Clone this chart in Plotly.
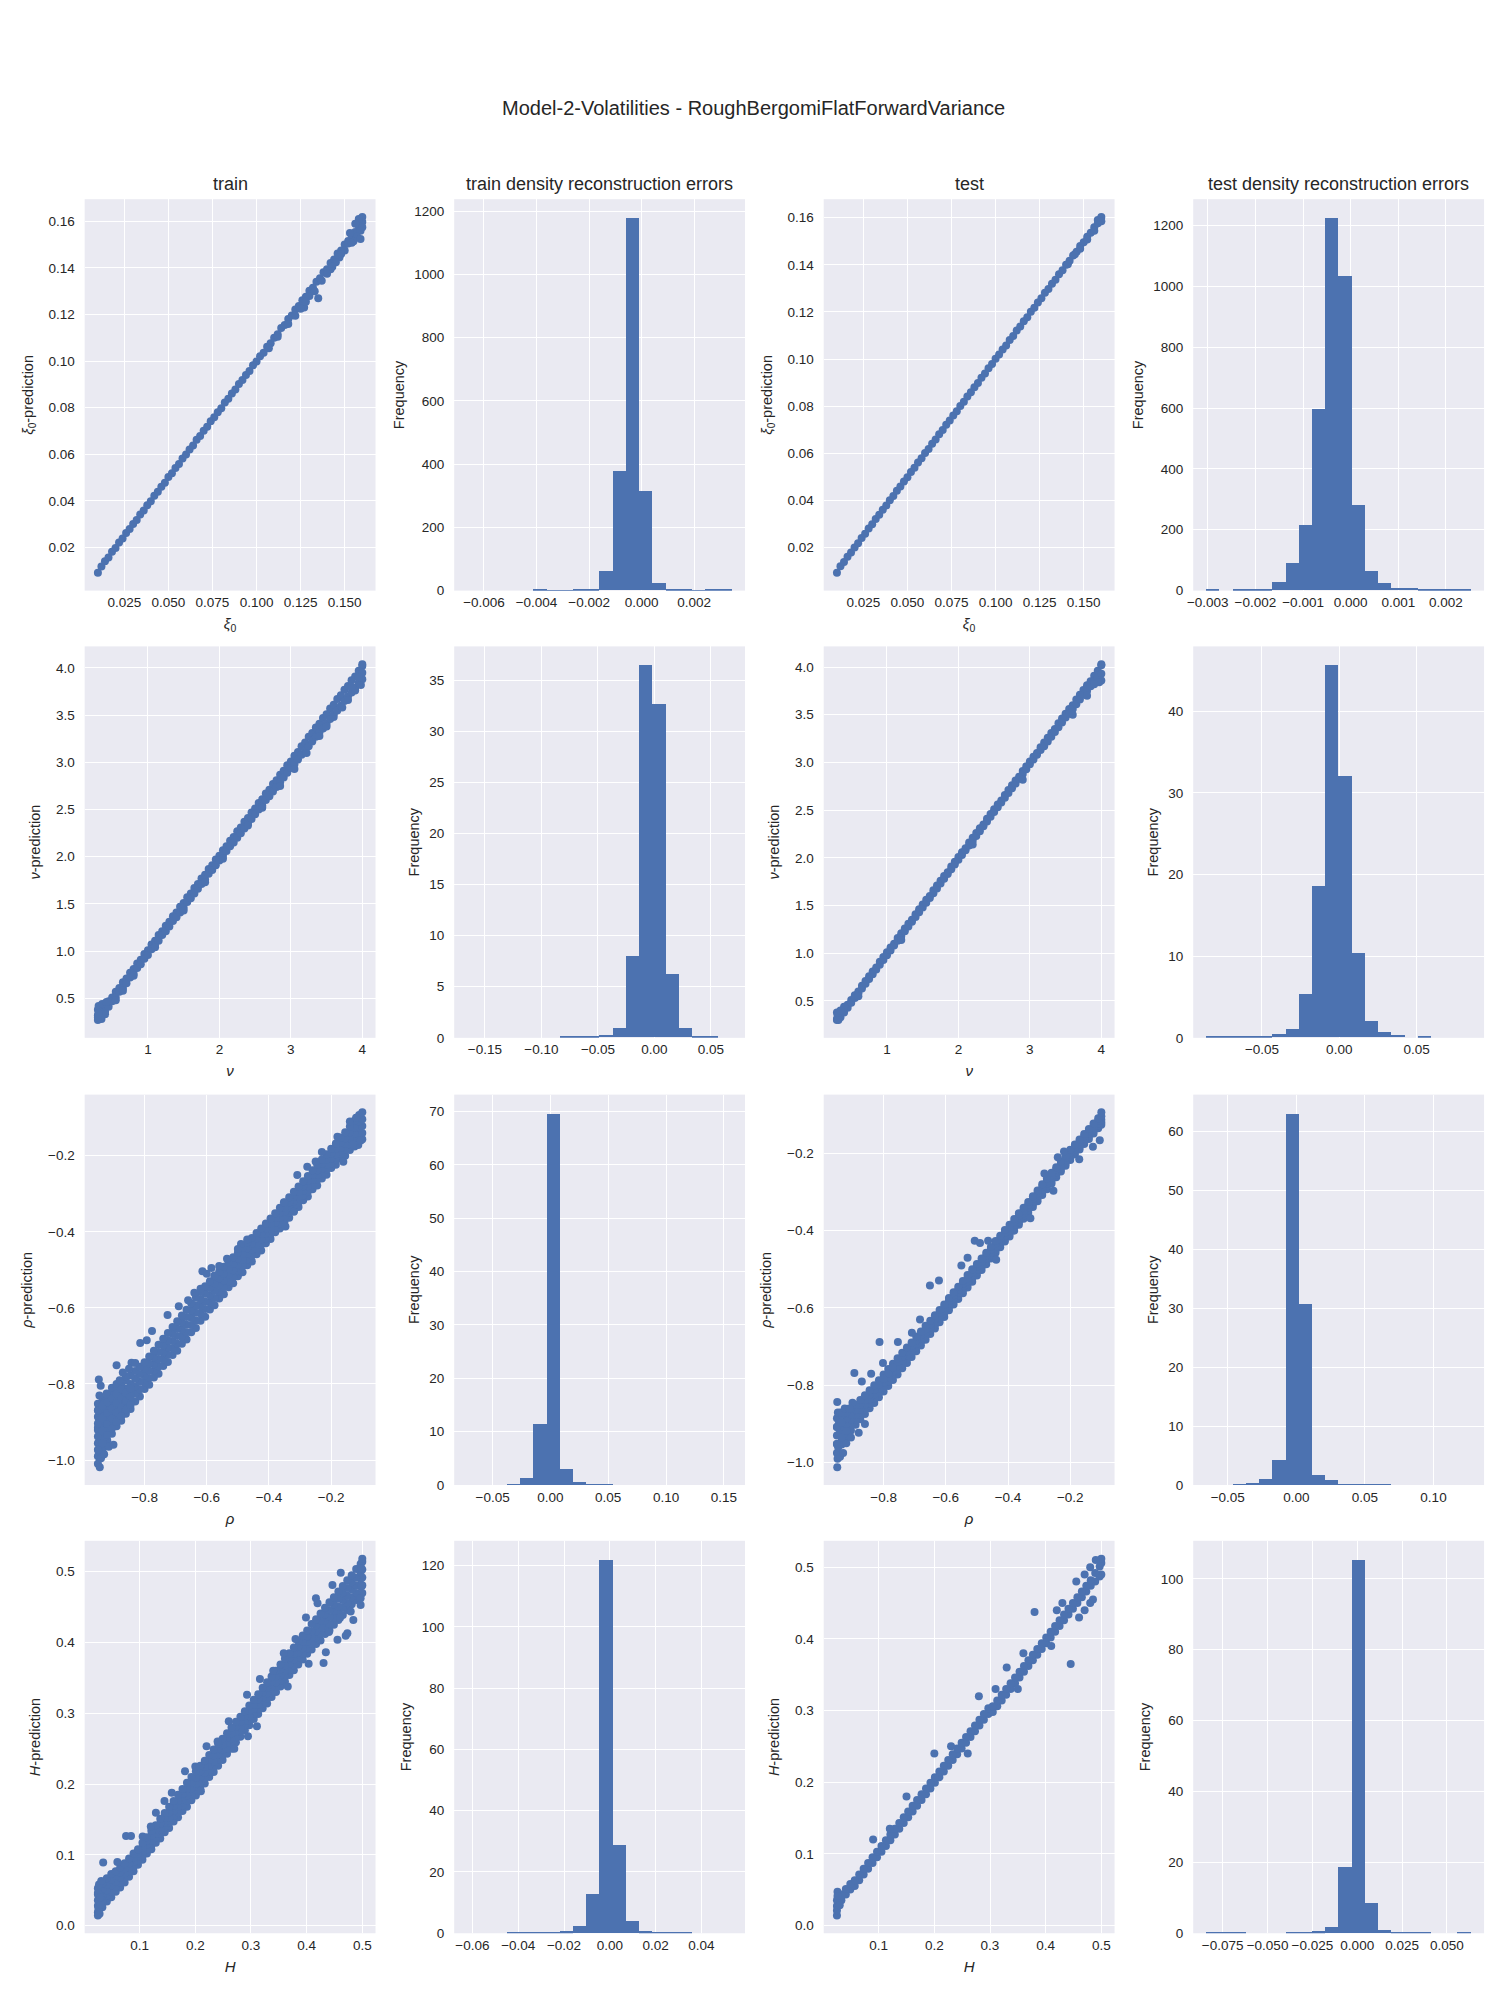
import plotly.graph_objects as go

# ---------------- DATA ----------------
# xi0 : true values and predictions
xi0_true = [0.010, 0.012, 0.014, 0.016, 0.018, 0.020, 0.022, 0.024, 0.026, 0.028,
            0.030, 0.032, 0.034, 0.036, 0.038, 0.040, 0.042, 0.044, 0.046, 0.048,
            0.050, 0.052, 0.054, 0.056, 0.058, 0.060, 0.062, 0.064, 0.066, 0.068,
            0.070, 0.072, 0.074, 0.076, 0.078, 0.080, 0.082, 0.084, 0.086, 0.088,
            0.090, 0.092, 0.094, 0.096, 0.098, 0.100, 0.102, 0.104, 0.106, 0.108,
            0.110, 0.112, 0.114, 0.116, 0.118, 0.120, 0.122, 0.124, 0.126, 0.128,
            0.130, 0.132, 0.134, 0.136, 0.138, 0.140, 0.142, 0.144, 0.146, 0.148,
            0.150, 0.152, 0.154, 0.156, 0.158, 0.160]
xi0_train_pred = [0.0091, 0.0118, 0.0141, 0.0157, 0.0182, 0.0198, 0.0221, 0.0238, 0.0262, 0.0279,
                  0.0301, 0.0318, 0.0342, 0.0359, 0.0381, 0.0398, 0.0422, 0.0439, 0.0461, 0.0478,
                  0.0502, 0.0519, 0.0541, 0.0558, 0.0582, 0.0599, 0.0621, 0.0638, 0.0662, 0.0679,
                  0.0701, 0.0718, 0.0742, 0.0759, 0.0781, 0.0798, 0.0822, 0.0839, 0.0861, 0.0878,
                  0.0902, 0.0919, 0.0941, 0.0958, 0.0982, 0.0999, 0.1021, 0.1036, 0.1062, 0.1077,
                  0.1101, 0.1116, 0.1142, 0.1155, 0.1181, 0.1196, 0.1222, 0.1237, 0.1261, 0.1276,
                  0.1302, 0.1315, 0.1341, 0.1356, 0.1382, 0.1395, 0.1421, 0.1436, 0.1462, 0.1475,
                  0.1501, 0.1516, 0.1542, 0.1555, 0.1581, 0.1598]
xi0_train_extra_true = [0.160, 0.160, 0.159, 0.157, 0.155, 0.152, 0.150, 0.147, 0.145, 0.142,
                        0.140, 0.137, 0.135, 0.127, 0.130, 0.125, 0.122, 0.118, 0.112, 0.107,
                        0.158, 0.156, 0.153, 0.159, 0.154, 0.148, 0.143, 0.133, 0.128]
xi0_train_extra_pred = [0.1619, 0.1575, 0.1560, 0.1535, 0.1515, 0.1505, 0.1475, 0.1445, 0.1425, 0.1395,
                        0.1375, 0.1345, 0.1270, 0.1230, 0.1280, 0.1225, 0.1195, 0.1160, 0.1105, 0.1055,
                        0.1610, 0.1590, 0.1550, 0.1525, 0.1508, 0.1460, 0.1405, 0.1300, 0.1255]
xi0_test_pred = [0.0093, 0.0121, 0.0139, 0.0161, 0.0179, 0.0201, 0.0219, 0.0241, 0.0259, 0.0281,
                 0.0299, 0.0321, 0.0339, 0.0361, 0.0379, 0.0401, 0.0419, 0.0441, 0.0459, 0.0481,
                 0.0499, 0.0521, 0.0539, 0.0561, 0.0579, 0.0601, 0.0619, 0.0641, 0.0659, 0.0681,
                 0.0699, 0.0721, 0.0739, 0.0761, 0.0779, 0.0801, 0.0819, 0.0841, 0.0859, 0.0881,
                 0.0899, 0.0921, 0.0939, 0.0961, 0.0979, 0.1001, 0.1019, 0.1041, 0.1058, 0.1081,
                 0.1098, 0.1121, 0.1138, 0.1161, 0.1178, 0.1201, 0.1218, 0.1240, 0.1258, 0.1281,
                 0.1297, 0.1320, 0.1337, 0.1360, 0.1377, 0.1400, 0.1417, 0.1440, 0.1456, 0.1480,
                 0.1496, 0.1519, 0.1536, 0.1559, 0.1576, 0.1603]
xi0_test_extra_true = [0.158, 0.156, 0.152, 0.148, 0.160, 0.145, 0.141]
xi0_test_extra_pred = [0.1590, 0.1545, 0.1508, 0.1468, 0.1585, 0.1445, 0.1402]

# nu
nu_true = [0.30, 0.35, 0.40, 0.45, 0.50, 0.55, 0.60, 0.65, 0.70, 0.75,
           0.80, 0.85, 0.90, 0.95, 1.00, 1.05, 1.10, 1.15, 1.20, 1.25,
           1.30, 1.35, 1.40, 1.45, 1.50, 1.55, 1.60, 1.65, 1.70, 1.75,
           1.80, 1.85, 1.90, 1.95, 2.00, 2.05, 2.10, 2.15, 2.20, 2.25,
           2.30, 2.35, 2.40, 2.45, 2.50, 2.55, 2.60, 2.65, 2.70, 2.75,
           2.80, 2.85, 2.90, 2.95, 3.00, 3.05, 3.10, 3.15, 3.20, 3.25,
           3.30, 3.35, 3.40, 3.45, 3.50, 3.55, 3.60, 3.65, 3.70, 3.75,
           3.80, 3.85, 3.90, 3.95, 4.00]
nu_train_pred_a = [0.32, 0.37, 0.41, 0.47, 0.51, 0.57, 0.61, 0.67, 0.71, 0.77,
                   0.81, 0.87, 0.91, 0.97, 1.01, 1.07, 1.11, 1.17, 1.21, 1.27,
                   1.31, 1.37, 1.41, 1.47, 1.51, 1.57, 1.61, 1.67, 1.71, 1.77,
                   1.81, 1.87, 1.91, 1.97, 2.01, 2.07, 2.11, 2.17, 2.21, 2.27,
                   2.31, 2.37, 2.41, 2.47, 2.51, 2.57, 2.61, 2.67, 2.71, 2.77,
                   2.81, 2.87, 2.91, 2.97, 3.01, 3.07, 3.11, 3.17, 3.21, 3.27,
                   3.31, 3.37, 3.41, 3.47, 3.51, 3.57, 3.61, 3.67, 3.71, 3.77,
                   3.81, 3.87, 3.91, 3.97, 4.02]
nu_train_pred_b = [0.27, 0.31, 0.36, 0.41, 0.47, 0.51, 0.57, 0.61, 0.66, 0.72,
                   0.76, 0.82, 0.86, 0.92, 0.96, 1.02, 1.06, 1.11, 1.17, 1.21,
                   1.26, 1.32, 1.36, 1.41, 1.46, 1.52, 1.56, 1.61, 1.66, 1.71,
                   1.76, 1.82, 1.86, 1.91, 1.96, 2.01, 2.06, 2.11, 2.15, 2.20,
                   2.25, 2.30, 2.35, 2.40, 2.45, 2.50, 2.54, 2.60, 2.64, 2.69,
                   2.74, 2.79, 2.84, 2.89, 2.94, 2.98, 3.03, 3.08, 3.13, 3.17,
                   3.22, 3.27, 3.32, 3.36, 3.41, 3.46, 3.51, 3.55, 3.60, 3.65,
                   3.70, 3.74, 3.79, 3.84, 3.88]
nu_train_extra_true = [4.00, 4.00, 3.98, 3.95, 3.90, 3.85, 3.80, 3.72, 3.60, 3.50,
                       3.40, 3.22, 3.05, 2.85, 2.60, 2.40, 2.05, 1.80, 1.50, 1.10,
                       0.80, 0.30, 0.31, 0.32, 0.33, 0.35, 0.36, 0.40, 0.42, 0.55,
                       0.65, 0.30, 0.31]
nu_train_extra_pred = [4.04, 3.95, 3.82, 3.90, 3.76, 3.80, 3.66, 3.58, 3.48, 3.38,
                       3.28, 3.10, 2.93, 2.75, 2.52, 2.33, 1.98, 1.73, 1.43, 1.04,
                       0.74, 0.38, 0.42, 0.29, 0.35, 0.28, 0.44, 0.33, 0.46, 0.48,
                       0.58, 0.30, 0.34]
nu_test_pred_a = [0.31, 0.36, 0.41, 0.46, 0.51, 0.56, 0.60, 0.66, 0.71, 0.76,
                  0.81, 0.85, 0.91, 0.96, 1.01, 1.06, 1.10, 1.16, 1.21, 1.26,
                  1.31, 1.35, 1.41, 1.46, 1.51, 1.56, 1.60, 1.66, 1.71, 1.76,
                  1.81, 1.85, 1.91, 1.96, 2.01, 2.06, 2.10, 2.16, 2.21, 2.26,
                  2.31, 2.35, 2.41, 2.46, 2.51, 2.56, 2.60, 2.66, 2.71, 2.76,
                  2.81, 2.85, 2.91, 2.96, 3.01, 3.06, 3.10, 3.16, 3.21, 3.26,
                  3.31, 3.35, 3.41, 3.46, 3.51, 3.56, 3.60, 3.66, 3.71, 3.76,
                  3.81, 3.85, 3.91, 3.96, 4.02]
nu_test_pred_b = [0.30, 0.33, 0.38, 0.43, 0.48, 0.53, 0.58, 0.63, 0.68, 0.73,
                  0.78, 0.83, 0.88, 0.93, 0.98, 1.03, 1.08, 1.13, 1.18, 1.23,
                  1.28, 1.33, 1.38, 1.43, 1.48, 1.53, 1.58, 1.63, 1.68, 1.73,
                  1.78, 1.83, 1.88, 1.93, 1.98, 2.03, 2.08, 2.13, 2.18, 2.23,
                  2.28, 2.33, 2.38, 2.43, 2.48, 2.53, 2.58, 2.63, 2.68, 2.73,
                  2.78, 2.83, 2.88, 2.93, 2.98, 3.03, 3.08, 3.13, 3.17, 3.22,
                  3.27, 3.32, 3.37, 3.42, 3.47, 3.51, 3.56, 3.61, 3.66, 3.71,
                  3.75, 3.80, 3.85, 3.89, 3.93]
nu_test_extra_true = [0.30, 0.31, 0.32, 4.00, 4.00, 3.97, 3.90, 3.80, 3.60, 2.90,
                      2.20, 1.20, 0.60, 0.40, 0.35]
nu_test_extra_pred = [0.38, 0.35, 0.30, 4.03, 3.86, 3.84, 3.82, 3.70, 3.50, 2.82,
                      2.14, 1.14, 0.55, 0.44, 0.40]

# rho
rho_true = [-0.950, -0.935, -0.920, -0.905, -0.890, -0.875, -0.860, -0.845, -0.830, -0.815,
            -0.800, -0.785, -0.770, -0.755, -0.740, -0.725, -0.710, -0.695, -0.680, -0.665,
            -0.650, -0.635, -0.620, -0.605, -0.590, -0.575, -0.560, -0.545, -0.530, -0.515,
            -0.500, -0.485, -0.470, -0.455, -0.440, -0.425, -0.410, -0.395, -0.380, -0.365,
            -0.350, -0.335, -0.320, -0.305, -0.290, -0.275, -0.260, -0.245, -0.230, -0.215,
            -0.200, -0.185, -0.170, -0.155, -0.140, -0.125, -0.110, -0.100]
rho_train_pred_1 = [-0.990, -0.972, -0.948, -0.931, -0.911, -0.897, -0.878, -0.866, -0.846, -0.833,
                    -0.813, -0.802, -0.783, -0.773, -0.753, -0.742, -0.724, -0.713, -0.694, -0.683,
                    -0.664, -0.653, -0.634, -0.623, -0.604, -0.593, -0.575, -0.564, -0.546, -0.535,
                    -0.517, -0.506, -0.488, -0.478, -0.459, -0.449, -0.430, -0.419, -0.401, -0.391,
                    -0.373, -0.363, -0.345, -0.335, -0.317, -0.307, -0.288, -0.278, -0.260, -0.250,
                    -0.232, -0.224, -0.208, -0.200, -0.185, -0.176, -0.161, -0.157]
rho_train_pred_2 = [-0.956, -0.939, -0.919, -0.904, -0.887, -0.873, -0.856, -0.844, -0.826, -0.814,
                    -0.796, -0.784, -0.766, -0.754, -0.735, -0.723, -0.706, -0.694, -0.676, -0.664,
                    -0.645, -0.633, -0.615, -0.603, -0.586, -0.574, -0.558, -0.546, -0.530, -0.518,
                    -0.502, -0.490, -0.473, -0.462, -0.445, -0.434, -0.417, -0.406, -0.388, -0.378,
                    -0.360, -0.350, -0.332, -0.322, -0.304, -0.294, -0.276, -0.264, -0.248, -0.236,
                    -0.220, -0.210, -0.194, -0.184, -0.170, -0.159, -0.144, -0.140]
rho_train_pred_3 = [-0.921, -0.906, -0.890, -0.878, -0.862, -0.850, -0.834, -0.822, -0.806, -0.794,
                    -0.778, -0.765, -0.748, -0.735, -0.717, -0.704, -0.687, -0.674, -0.657, -0.644,
                    -0.626, -0.613, -0.596, -0.583, -0.567, -0.555, -0.540, -0.528, -0.513, -0.501,
                    -0.486, -0.474, -0.458, -0.447, -0.431, -0.420, -0.404, -0.392, -0.376, -0.364,
                    -0.348, -0.336, -0.320, -0.308, -0.292, -0.280, -0.263, -0.251, -0.235, -0.223,
                    -0.207, -0.196, -0.180, -0.169, -0.154, -0.142, -0.127, -0.122]
rho_train_pred_4 = [-0.886, -0.873, -0.861, -0.851, -0.838, -0.826, -0.812, -0.800, -0.786, -0.774,
                    -0.760, -0.746, -0.730, -0.716, -0.699, -0.685, -0.668, -0.654, -0.638, -0.624,
                    -0.607, -0.593, -0.577, -0.563, -0.548, -0.536, -0.522, -0.510, -0.496, -0.484,
                    -0.470, -0.458, -0.443, -0.432, -0.417, -0.406, -0.391, -0.378, -0.364, -0.350,
                    -0.336, -0.322, -0.308, -0.294, -0.280, -0.266, -0.250, -0.238, -0.222, -0.210,
                    -0.194, -0.182, -0.166, -0.154, -0.138, -0.125, -0.110, -0.104]
rho_train_pred_5 = [-0.852, -0.840, -0.832, -0.824, -0.813, -0.802, -0.790, -0.778, -0.766, -0.755,
                    -0.743, -0.728, -0.713, -0.697, -0.681, -0.666, -0.650, -0.635, -0.620, -0.605,
                    -0.588, -0.573, -0.558, -0.543, -0.530, -0.517, -0.505, -0.492, -0.480, -0.467,
                    -0.455, -0.442, -0.428, -0.416, -0.403, -0.391, -0.378, -0.365, -0.351, -0.337,
                    -0.323, -0.309, -0.295, -0.281, -0.267, -0.253, -0.238, -0.224, -0.210, -0.196,
                    -0.182, -0.168, -0.152, -0.138, -0.123, -0.108, -0.093, -0.086]
rho_train_extra_true = [-0.950, -0.948, -0.947, -0.950, -0.946, -0.949, -0.945, -0.944, -0.940, -0.938,
                        -0.942, -0.936, -0.930, -0.928, -0.925, -0.930, -0.922, -0.915, -0.912, -0.910,
                        -0.905, -0.900, -0.895, -0.890, -0.880, -0.947, -0.941, -0.890, -0.842, -0.814,
                        -0.793, -0.776, -0.726, -0.690, -0.614, -0.585, -0.535, -0.490, -0.352, -0.309,
                        -0.277, -0.113, -0.161, -0.320, -0.347, -0.620, -0.600, -0.575, -0.560, -0.850,
                        -0.860, -0.830, -0.870, -0.640, -0.660, -0.500, -0.470, -0.230, -0.250, -0.180,
                        -0.140, -0.120, -0.105, -0.130,
                        -0.950, -0.950, -0.950, -0.950, -0.935, -0.935, -0.935, -0.935,
                        -0.920, -0.920, -0.920, -0.920, -0.905, -0.905, -0.905, -0.905,
                        -0.890, -0.890, -0.890, -0.890, -0.875, -0.875, -0.875, -0.875,
                        -0.860, -0.860, -0.860, -0.845, -0.845, -0.845]
rho_train_extra_pred = [-1.010, -0.975, -0.955, -0.915, -0.895, -0.870, -0.830, -1.019, -0.995, -0.960,
                        -0.905, -0.865, -0.985, -0.940, -0.900, -0.850, -0.825, -0.965, -0.905, -0.850,
                        -0.810, -0.960, -0.870, -0.800, -0.790, -0.788, -0.805, -0.751, -0.744, -0.692,
                        -0.685, -0.661, -0.619, -0.596, -0.504, -0.495, -0.471, -0.432, -0.322, -0.251,
                        -0.229, -0.172, -0.216, -0.347, -0.386, -0.550, -0.510, -0.515, -0.490, -0.760,
                        -0.780, -0.745, -0.770, -0.560, -0.580, -0.445, -0.420, -0.190, -0.215, -0.150,
                        -0.110, -0.100, -0.160, -0.170,
                        -0.973, -0.938, -0.904, -0.869, -0.956, -0.923, -0.890, -0.857,
                        -0.934, -0.905, -0.876, -0.848, -0.917, -0.891, -0.865, -0.838,
                        -0.900, -0.875, -0.850, -0.826, -0.885, -0.862, -0.838, -0.814,
                        -0.867, -0.845, -0.823, -0.855, -0.833, -0.811]
rho_test_pred_1 = [-0.975, -0.953, -0.934, -0.917, -0.902, -0.888, -0.874, -0.859, -0.846, -0.831,
                   -0.816, -0.802, -0.786, -0.772, -0.756, -0.742, -0.727, -0.712, -0.697, -0.682,
                   -0.667, -0.653, -0.637, -0.623, -0.606, -0.591, -0.577, -0.562, -0.547, -0.532,
                   -0.516, -0.502, -0.487, -0.472, -0.457, -0.443, -0.428, -0.415, -0.400, -0.385,
                   -0.369, -0.354, -0.339, -0.324, -0.308, -0.293, -0.278, -0.262, -0.247, -0.232,
                   -0.217, -0.203, -0.190, -0.176, -0.163, -0.149, -0.135, -0.126]
rho_test_pred_2 = [-0.952, -0.934, -0.918, -0.903, -0.889, -0.876, -0.862, -0.848, -0.834, -0.820,
                   -0.805, -0.791, -0.776, -0.762, -0.746, -0.732, -0.718, -0.702, -0.688, -0.673,
                   -0.658, -0.644, -0.629, -0.615, -0.598, -0.583, -0.569, -0.554, -0.539, -0.524,
                   -0.508, -0.494, -0.480, -0.464, -0.450, -0.436, -0.420, -0.408, -0.392, -0.378,
                   -0.362, -0.347, -0.332, -0.317, -0.301, -0.286, -0.271, -0.256, -0.240, -0.226,
                   -0.210, -0.196, -0.184, -0.170, -0.156, -0.142, -0.128, -0.120]
rho_test_pred_3 = [-0.930, -0.915, -0.902, -0.889, -0.876, -0.863, -0.850, -0.836, -0.823, -0.809,
                   -0.794, -0.780, -0.765, -0.751, -0.736, -0.722, -0.708, -0.693, -0.679, -0.664,
                   -0.650, -0.636, -0.621, -0.607, -0.590, -0.575, -0.561, -0.546, -0.531, -0.516,
                   -0.501, -0.487, -0.472, -0.457, -0.442, -0.428, -0.413, -0.400, -0.385, -0.370,
                   -0.355, -0.340, -0.325, -0.310, -0.294, -0.279, -0.264, -0.249, -0.234, -0.219,
                   -0.204, -0.190, -0.177, -0.163, -0.150, -0.136, -0.122, -0.113]
rho_test_pred_4 = [-0.908, -0.896, -0.886, -0.875, -0.863, -0.850, -0.838, -0.824, -0.812, -0.798,
                   -0.783, -0.769, -0.754, -0.740, -0.726, -0.712, -0.698, -0.684, -0.670, -0.655,
                   -0.642, -0.628, -0.613, -0.599, -0.582, -0.567, -0.553, -0.538, -0.523, -0.508,
                   -0.494, -0.480, -0.464, -0.450, -0.434, -0.420, -0.406, -0.392, -0.378, -0.362,
                   -0.348, -0.333, -0.318, -0.303, -0.287, -0.272, -0.257, -0.242, -0.228, -0.212,
                   -0.198, -0.184, -0.170, -0.156, -0.144, -0.130, -0.116, -0.104]
rho_test_pred_5 = [-0.885, -0.877, -0.870, -0.861, -0.850, -0.838, -0.826, -0.813, -0.800, -0.787,
                   -0.772, -0.758, -0.744, -0.730, -0.716, -0.702, -0.689, -0.674, -0.661, -0.646,
                   -0.633, -0.619, -0.605, -0.591, -0.574, -0.559, -0.545, -0.530, -0.515, -0.500,
                   -0.486, -0.472, -0.457, -0.442, -0.427, -0.413, -0.398, -0.385, -0.370, -0.355,
                   -0.341, -0.326, -0.311, -0.296, -0.280, -0.265, -0.250, -0.236, -0.221, -0.206,
                   -0.191, -0.177, -0.164, -0.150, -0.137, -0.123, -0.109, -0.094]
rho_test_extra_true = [-0.949, -0.949, -0.948, -0.946, -0.944, -0.947, -0.940, -0.938, -0.930, -0.925,
                       -0.935, -0.942, -0.894, -0.813, -0.754, -0.802, -0.651, -0.622, -0.683, -0.709,
                       -0.507, -0.464, -0.490, -0.438, -0.328, -0.283, -0.254, -0.171, -0.105, -0.127,
                       -0.880, -0.860, -0.870, -0.840, -0.550, -0.530, -0.240, -0.220, -0.900, -0.910,
                       -0.920, -0.905, -0.950, -0.950, -0.935, -0.935, -0.920, -0.800, -0.785, -0.770]
rho_test_extra_pred = [-0.843, -1.012, -0.990, -0.960, -0.900, -0.870, -0.985, -0.870, -0.975, -0.860,
                       -0.945, -0.925, -0.768, -0.688, -0.688, -0.742, -0.542, -0.529, -0.630, -0.664,
                       -0.426, -0.426, -0.432, -0.475, -0.368, -0.252, -0.297, -0.215, -0.166, -0.183,
                       -0.923, -0.900, -0.790, -0.770, -0.490, -0.470, -0.210, -0.195, -0.845, -0.860,
                       -0.950, -0.935, -0.952, -0.908, -0.934, -0.896, -0.918, -0.783, -0.769, -0.754]

# H
H_true = [0.025, 0.033, 0.041, 0.049, 0.057, 0.065, 0.073, 0.081, 0.089, 0.097,
          0.105, 0.113, 0.121, 0.129, 0.137, 0.145, 0.153, 0.161, 0.169, 0.177,
          0.185, 0.193, 0.201, 0.209, 0.217, 0.225, 0.233, 0.241, 0.249, 0.257,
          0.265, 0.273, 0.281, 0.289, 0.297, 0.305, 0.313, 0.321, 0.329, 0.337,
          0.345, 0.353, 0.361, 0.369, 0.377, 0.385, 0.393, 0.401, 0.409, 0.417,
          0.425, 0.433, 0.441, 0.449, 0.457, 0.465, 0.473, 0.481, 0.489, 0.497,
          0.500]
H_train_pred_1 = [0.019, 0.026, 0.034, 0.040, 0.048, 0.054, 0.061, 0.069, 0.077, 0.086,
                  0.093, 0.102, 0.108, 0.117, 0.123, 0.132, 0.138, 0.147, 0.153, 0.162,
                  0.168, 0.177, 0.184, 0.193, 0.201, 0.210, 0.217, 0.226, 0.234, 0.243,
                  0.250, 0.259, 0.267, 0.276, 0.283, 0.292, 0.299, 0.307, 0.314, 0.323,
                  0.330, 0.338, 0.345, 0.354, 0.361, 0.369, 0.376, 0.384, 0.390, 0.398,
                  0.403, 0.412, 0.417, 0.425, 0.432, 0.439, 0.446, 0.454, 0.460, 0.468,
                  0.470]
H_train_pred_2 = [0.028, 0.034, 0.042, 0.048, 0.055, 0.061, 0.067, 0.076, 0.083, 0.092,
                  0.098, 0.108, 0.114, 0.124, 0.130, 0.139, 0.145, 0.155, 0.160, 0.170,
                  0.176, 0.186, 0.192, 0.202, 0.208, 0.218, 0.224, 0.234, 0.241, 0.250,
                  0.257, 0.266, 0.274, 0.283, 0.290, 0.299, 0.306, 0.314, 0.321, 0.330,
                  0.337, 0.346, 0.352, 0.362, 0.368, 0.378, 0.384, 0.392, 0.398, 0.407,
                  0.412, 0.422, 0.426, 0.435, 0.442, 0.450, 0.456, 0.464, 0.470, 0.479,
                  0.481]
H_train_pred_3 = [0.036, 0.043, 0.050, 0.057, 0.062, 0.068, 0.074, 0.082, 0.090, 0.097,
                  0.104, 0.114, 0.120, 0.130, 0.136, 0.146, 0.152, 0.162, 0.168, 0.178,
                  0.184, 0.194, 0.200, 0.210, 0.216, 0.226, 0.232, 0.242, 0.248, 0.258,
                  0.264, 0.274, 0.280, 0.290, 0.296, 0.306, 0.312, 0.322, 0.328, 0.338,
                  0.344, 0.354, 0.360, 0.370, 0.376, 0.386, 0.392, 0.401, 0.407, 0.416,
                  0.421, 0.431, 0.436, 0.445, 0.451, 0.460, 0.466, 0.475, 0.481, 0.490,
                  0.492]
H_train_pred_4 = [0.044, 0.052, 0.058, 0.065, 0.070, 0.075, 0.081, 0.088, 0.096, 0.102,
                  0.110, 0.120, 0.127, 0.136, 0.144, 0.152, 0.160, 0.169, 0.176, 0.186,
                  0.193, 0.202, 0.209, 0.218, 0.224, 0.234, 0.240, 0.250, 0.256, 0.265,
                  0.272, 0.281, 0.288, 0.296, 0.304, 0.312, 0.320, 0.329, 0.336, 0.345,
                  0.352, 0.362, 0.368, 0.378, 0.384, 0.394, 0.401, 0.409, 0.416, 0.424,
                  0.431, 0.440, 0.446, 0.454, 0.462, 0.470, 0.477, 0.485, 0.492, 0.500,
                  0.503]
H_train_pred_5 = [0.053, 0.060, 0.067, 0.073, 0.077, 0.082, 0.088, 0.095, 0.102, 0.108,
                  0.117, 0.125, 0.134, 0.142, 0.151, 0.159, 0.168, 0.176, 0.185, 0.193,
                  0.202, 0.210, 0.218, 0.226, 0.233, 0.241, 0.249, 0.257, 0.264, 0.272,
                  0.280, 0.288, 0.295, 0.303, 0.311, 0.319, 0.327, 0.336, 0.344, 0.352,
                  0.360, 0.369, 0.377, 0.385, 0.393, 0.402, 0.410, 0.417, 0.426, 0.433,
                  0.441, 0.449, 0.457, 0.464, 0.472, 0.480, 0.488, 0.495, 0.504, 0.511,
                  0.514]
H_train_extra_true = [0.025, 0.026, 0.025, 0.027, 0.028, 0.030, 0.031, 0.029, 0.0345, 0.0756,
                      0.0845, 0.1054, 0.1292, 0.1446, 0.1577, 0.1815, 0.2202, 0.2601, 0.2929, 0.3161,
                      0.3589, 0.3988, 0.4167, 0.4196, 0.4613, 0.4464, 0.3107, 0.2946, 0.3661, 0.4036,
                      0.4304, 0.4345, 0.4554, 0.4702, 0.4732, 0.4839, 0.4970, 0.4970, 0.4792, 0.500,
                      0.498, 0.499, 0.240, 0.200, 0.120, 0.060, 0.340, 0.380, 0.270, 0.210,
                      0.440, 0.460]
H_train_extra_pred = [0.0145, 0.024, 0.046, 0.058, 0.017, 0.030, 0.063, 0.040, 0.0892, 0.1268,
                      0.1268, 0.1258, 0.1596, 0.1761, 0.1878, 0.2183, 0.2535, 0.2887, 0.3263, 0.3484,
                      0.3850, 0.4352, 0.4624, 0.4554, 0.4986, 0.4812, 0.2817, 0.2676, 0.3380, 0.3700,
                      0.3709, 0.3864, 0.4038, 0.4094, 0.4131, 0.4319, 0.4531, 0.4624, 0.4437, 0.5185,
                      0.505, 0.480, 0.260, 0.225, 0.140, 0.090, 0.360, 0.405, 0.250, 0.190,
                      0.415, 0.435]
H_test_pred_1 = [0.027, 0.035, 0.043, 0.050, 0.055, 0.063, 0.071, 0.079, 0.087, 0.095,
                 0.103, 0.111, 0.119, 0.127, 0.135, 0.143, 0.151, 0.159, 0.167, 0.175,
                 0.183, 0.191, 0.199, 0.207, 0.215, 0.223, 0.231, 0.239, 0.247, 0.255,
                 0.263, 0.271, 0.279, 0.287, 0.295, 0.298, 0.306, 0.314, 0.322, 0.330,
                 0.338, 0.346, 0.354, 0.362, 0.370, 0.378, 0.386, 0.394, 0.402, 0.410,
                 0.418, 0.426, 0.434, 0.442, 0.450, 0.458, 0.466, 0.474, 0.480, 0.487,
                 0.490]
H_test_pred_2 = [0.035, 0.043, 0.051, 0.058, 0.063, 0.071, 0.079, 0.087, 0.095, 0.103,
                 0.111, 0.119, 0.127, 0.135, 0.143, 0.151, 0.159, 0.167, 0.175, 0.183,
                 0.191, 0.199, 0.207, 0.215, 0.223, 0.231, 0.239, 0.247, 0.255, 0.263,
                 0.271, 0.279, 0.287, 0.295, 0.303, 0.306, 0.314, 0.322, 0.330, 0.338,
                 0.346, 0.354, 0.362, 0.370, 0.378, 0.386, 0.394, 0.402, 0.410, 0.418,
                 0.426, 0.434, 0.442, 0.450, 0.458, 0.466, 0.474, 0.482, 0.492, 0.501,
                 0.506]
H_test_extra_true = [0.025, 0.026, 0.445, 0.485, 0.470, 0.380, 0.330, 0.280, 0.200, 0.150,
                     0.090, 0.500, 0.490, 0.480, 0.460, 0.420, 0.410, 0.350, 0.260, 0.480,
                     0.470, 0.455, 0.430, 0.360, 0.310, 0.230, 0.120, 0.025, 0.026, 0.030]
H_test_extra_pred = [0.014, 0.047, 0.365, 0.455, 0.440, 0.4375, 0.360, 0.320, 0.240, 0.180,
                     0.120, 0.512, 0.510, 0.450, 0.430, 0.440, 0.390, 0.330, 0.240, 0.500,
                     0.490, 0.480, 0.450, 0.380, 0.330, 0.250, 0.135, 0.021, 0.041, 0.028]

# Histograms: first bin edge, bin width, heights of the 20 bins
err_xi0_train_start, err_xi0_train_width = -0.00663, 0.000503
err_xi0_train_counts = [0, 0, 0, 0, 0, 2, 1, 1, 2, 5, 62, 377, 1179, 314, 24, 5, 2, 1, 2, 2]
err_xi0_test_start, err_xi0_test_width = -0.003028, 0.0002775
err_xi0_test_counts = [2, 0, 2, 2, 5, 28, 91, 215, 597, 1225, 1032, 281, 64, 25, 9, 9, 2, 5, 2, 2]
err_nu_train_start, err_nu_train_width = -0.1655, 0.011696
err_nu_train_density = [0, 0, 0, 0, 0, 0, 0, 0.07, 0.07, 0.16, 0.26, 0.94, 7.98, 36.47, 32.6, 6.22, 0.94, 0.16, 0.07, 0]
err_nu_test_start, err_nu_test_width = -0.0859, 0.00855
err_nu_test_density = [0.06, 0.06, 0.06, 0.06, 0.16, 0.45, 1.06, 5.34, 18.53, 45.66, 31.98, 10.35, 2.04, 0.69, 0.33, 0, 0.06, 0, 0, 0]
err_rho_train_start, err_rho_train_width = -0.07175, 0.011431
err_rho_train_density = [0, 0, 0, 0.31, 1.43, 11.56, 69.67, 3.17, 0.68, 0.31, 0.19, 0, 0, 0, 0, 0, 0, 0, 0, 0]
err_rho_test_start, err_rho_test_width = -0.06557, 0.00964
err_rho_test_density = [0, 0, 0.11, 0.34, 1.01, 4.39, 63.15, 30.87, 1.69, 0.85, 0.28, 0.11, 0.11, 0.11, 0, 0, 0, 0, 0, 0]
err_H_train_start, err_H_train_width = -0.06219, 0.005775
err_H_train_density = [0, 0, 0, 0.22, 0.22, 0.22, 0.22, 0.65, 2.29, 12.73, 121.98, 28.94, 3.92, 0.65, 0.22, 0.22, 0.22, 0, 0, 0]
err_H_test_start, err_H_test_width = -0.08406, 0.007369
err_H_test_density = [0.19, 0.19, 0.19, 0, 0, 0, 0.19, 0.19, 0.56, 1.69, 18.63, 105.46, 8.47, 0.85, 0.19, 0.19, 0.19, 0, 0, 0.19]

# Tick values
xi0_ticks_x = [0.025, 0.050, 0.075, 0.100, 0.125, 0.150]
xi0_ticks_y = [0.02, 0.04, 0.06, 0.08, 0.10, 0.12, 0.14, 0.16]
nu_ticks_x = [1, 2, 3, 4]
nu_ticks_y = [0.5, 1.0, 1.5, 2.0, 2.5, 3.0, 3.5, 4.0]
rho_ticks_x = [-0.8, -0.6, -0.4, -0.2]
rho_ticks_y = [-1.0, -0.8, -0.6, -0.4, -0.2]
H_ticks_x = [0.1, 0.2, 0.3, 0.4, 0.5]
H_ticks_y = [0.0, 0.1, 0.2, 0.3, 0.4, 0.5]
hx_xi0_train = [-0.006, -0.004, -0.002, 0.000, 0.002]
hy_xi0_train = [0, 200, 400, 600, 800, 1000, 1200]
hx_xi0_test = [-0.003, -0.002, -0.001, 0.000, 0.001, 0.002]
hy_xi0_test = [0, 200, 400, 600, 800, 1000, 1200]
hx_nu_train = [-0.15, -0.10, -0.05, 0.00, 0.05]
hy_nu_train = [0, 5, 10, 15, 20, 25, 30, 35]
hx_nu_test = [-0.05, 0.00, 0.05]
hy_nu_test = [0, 10, 20, 30, 40]
hx_rho_train = [-0.05, 0.00, 0.05, 0.10, 0.15]
hy_rho_train = [0, 10, 20, 30, 40, 50, 60, 70]
hx_rho_test = [-0.05, 0.00, 0.05, 0.10]
hy_rho_test = [0, 10, 20, 30, 40, 50, 60]
hx_H_train = [-0.06, -0.04, -0.02, 0.00, 0.02, 0.04]
hy_H_train = [0, 20, 40, 60, 80, 100, 120]
hx_H_test = [-0.075, -0.050, -0.025, 0.000, 0.025, 0.050]
hy_H_test = [0, 20, 40, 60, 80, 100]

suptitle = "Model-2-Volatilities - RoughBergomiFlatForwardVariance"
col_titles = ["train", "train density reconstruction errors", "test", "test density reconstruction errors"]

# ---------------- STYLE / LAYOUT ----------------
FONT = "Liberation Sans, Arial, Helvetica, sans-serif"
TXT = "#262626"
BLUE = "#4C72B0"
BG = "#EAEAF2"
W, HGT = 1500, 2000
COL_PX = [(79, 371), (450, 742), (821, 1113), (1192, 1484)]
ROW_PX = [(200, 593), (649, 1042), (1099, 1491), (1547, 1941)]
MARKER = 8

fig = go.Figure()
layout_axes = {}


def names(i):
    return ("x" if i == 1 else f"x{i}", "y" if i == 1 else f"y{i}",
            "xaxis" if i == 1 else f"xaxis{i}", "yaxis" if i == 1 else f"yaxis{i}")


def ttext(vals, dec):
    return [f"{v:.{dec}f}".replace("-", "\u2212") for v in vals]


def pad(lo, hi):
    m = 0.05 * (hi - lo)
    return [lo - m, hi + m]


def axis_common():
    return dict(showgrid=True, gridcolor="white", gridwidth=1.3, zeroline=False,
                showline=False, ticks="", tickfont=dict(family=FONT, size=13.5, color=TXT))


def set_axes(i, r, c, xr, yr, xt, xdec, yt, ydec, xtitle, ytitle, ystand):
    xn, yn, xa, ya = names(i)
    x0, x1 = COL_PX[c]
    y0, y1 = ROW_PX[r]
    xax = axis_common()
    xax.update(domain=[x0 / W, x1 / W], anchor=yn, range=xr,
               tickmode="array", tickvals=xt, ticktext=ttext(xt, xdec), ticklabelstandoff=2)
    if xtitle:
        xax["title"] = dict(text=xtitle, font=dict(family=FONT, size=15, color=TXT), standoff=9)
    yax = axis_common()
    yax.update(domain=[1 - y1 / HGT, 1 - y0 / HGT], anchor=xn, range=yr,
               tickmode="array", tickvals=yt, ticktext=ttext(yt, ydec), ticklabelstandoff=9)
    yax["title"] = dict(text=ytitle, font=dict(family=FONT, size=14.5, color=TXT), standoff=ystand)
    layout_axes[xa] = xax
    layout_axes[ya] = yax


def add_scatter(i, r, c, true_lists, pred_lists, xt, xdec, yt, ydec, xtitle, ytitle):
    xs, ys = [], []
    for tl, pl in zip(true_lists, pred_lists):
        for a, b in zip(tl, pl):
            xs.append(a)
            ys.append(b)
    xn, yn, _, _ = names(i)
    fig.add_trace(go.Scatter(x=xs, y=ys, mode="markers", xaxis=xn, yaxis=yn,
                             marker=dict(color=BLUE, size=MARKER, line=dict(width=0)),
                             hoverinfo="skip", showlegend=False))
    set_axes(i, r, c, pad(min(xs), max(xs)), pad(min(ys), max(ys)),
             xt, xdec, yt, ydec, xtitle, ytitle, 11)


def add_hist(i, r, c, start, width, heights, xt, xdec, yt):
    n = len(heights)
    centers = [start + width * (k + 0.5) for k in range(n)]
    xn, yn, _, _ = names(i)
    fig.add_trace(go.Bar(x=centers, y=heights, width=[width] * n, xaxis=xn, yaxis=yn,
                         marker=dict(color=BLUE, line=dict(width=0)),
                         hoverinfo="skip", showlegend=False))
    span = width * n
    xr = [start - 0.05 * span, start + span + 0.05 * span]
    yr = [0, 1.05 * max(heights)]
    set_axes(i, r, c, xr, yr, xt, xdec, yt, 0, None, "Frequency", 6)


X_LAB = ["<i>ξ</i><sub>0</sub>", "<i>ν</i>", "<i>ρ</i>", "<i>H</i>"]
Y_LAB = ["<i>ξ</i><sub>0</sub>-prediction", "<i>ν</i>-prediction",
         "<i>ρ</i>-prediction", "<i>H</i>-prediction"]

# Row 1: xi0
add_scatter(1, 0, 0, [xi0_true, xi0_train_extra_true], [xi0_train_pred, xi0_train_extra_pred],
            xi0_ticks_x, 3, xi0_ticks_y, 2, X_LAB[0], Y_LAB[0])
add_hist(2, 0, 1, err_xi0_train_start, err_xi0_train_width, err_xi0_train_counts, hx_xi0_train, 3, hy_xi0_train)
add_scatter(3, 0, 2, [xi0_true, xi0_test_extra_true], [xi0_test_pred, xi0_test_extra_pred],
            xi0_ticks_x, 3, xi0_ticks_y, 2, X_LAB[0], Y_LAB[0])
add_hist(4, 0, 3, err_xi0_test_start, err_xi0_test_width, err_xi0_test_counts, hx_xi0_test, 3, hy_xi0_test)

# Row 2: nu
add_scatter(5, 1, 0, [nu_true, nu_true, nu_train_extra_true],
            [nu_train_pred_a, nu_train_pred_b, nu_train_extra_pred],
            nu_ticks_x, 0, nu_ticks_y, 1, X_LAB[1], Y_LAB[1])
add_hist(6, 1, 1, err_nu_train_start, err_nu_train_width, err_nu_train_density, hx_nu_train, 2, hy_nu_train)
add_scatter(7, 1, 2, [nu_true, nu_true, nu_test_extra_true],
            [nu_test_pred_a, nu_test_pred_b, nu_test_extra_pred],
            nu_ticks_x, 0, nu_ticks_y, 1, X_LAB[1], Y_LAB[1])
add_hist(8, 1, 3, err_nu_test_start, err_nu_test_width, err_nu_test_density, hx_nu_test, 2, hy_nu_test)

# Row 3: rho
add_scatter(9, 2, 0, [rho_true] * 5 + [rho_train_extra_true],
            [rho_train_pred_1, rho_train_pred_2, rho_train_pred_3, rho_train_pred_4, rho_train_pred_5,
             rho_train_extra_pred],
            rho_ticks_x, 1, rho_ticks_y, 1, X_LAB[2], Y_LAB[2])
add_hist(10, 2, 1, err_rho_train_start, err_rho_train_width, err_rho_train_density, hx_rho_train, 2, hy_rho_train)
add_scatter(11, 2, 2, [rho_true] * 5 + [rho_test_extra_true],
            [rho_test_pred_1, rho_test_pred_2, rho_test_pred_3, rho_test_pred_4, rho_test_pred_5,
             rho_test_extra_pred],
            rho_ticks_x, 1, rho_ticks_y, 1, X_LAB[2], Y_LAB[2])
add_hist(12, 2, 3, err_rho_test_start, err_rho_test_width, err_rho_test_density, hx_rho_test, 2, hy_rho_test)

# Row 4: H
add_scatter(13, 3, 0, [H_true] * 5 + [H_train_extra_true],
            [H_train_pred_1, H_train_pred_2, H_train_pred_3, H_train_pred_4, H_train_pred_5,
             H_train_extra_pred],
            H_ticks_x, 1, H_ticks_y, 1, X_LAB[3], Y_LAB[3])
add_hist(14, 3, 1, err_H_train_start, err_H_train_width, err_H_train_density, hx_H_train, 2, hy_H_train)
add_scatter(15, 3, 2, [H_true, H_true, H_test_extra_true],
            [H_test_pred_1, H_test_pred_2, H_test_extra_pred],
            H_ticks_x, 1, H_ticks_y, 1, X_LAB[3], Y_LAB[3])
add_hist(16, 3, 3, err_H_test_start, err_H_test_width, err_H_test_density, hx_H_test, 3, hy_H_test)

annotations = []
for c, t in enumerate(col_titles):
    x0, x1 = COL_PX[c]
    annotations.append(dict(text=t, x=(x0 + x1) / 2 / W, y=1 - ROW_PX[0][0] / HGT,
                            xref="paper", yref="paper", xanchor="center", yanchor="bottom",
                            yshift=3, showarrow=False, font=dict(family=FONT, size=18, color=TXT)))
annotations.append(dict(text=suptitle, x=0.5, y=1 - 108 / HGT, xref="paper", yref="paper",
                        xanchor="center", yanchor="middle", showarrow=False,
                        font=dict(family=FONT, size=20, color=TXT)))

fig.update_layout(width=W, height=HGT, margin=dict(l=0, r=0, t=0, b=0),
                  paper_bgcolor="white", plot_bgcolor=BG, bargap=0,
                  showlegend=False, annotations=annotations,
                  font=dict(family=FONT, color=TXT), **layout_axes)

fig.write_html("out.html", config={"displayModeBar": False},
               post_script="document.body.style.margin='0';document.body.style.padding='0';")
